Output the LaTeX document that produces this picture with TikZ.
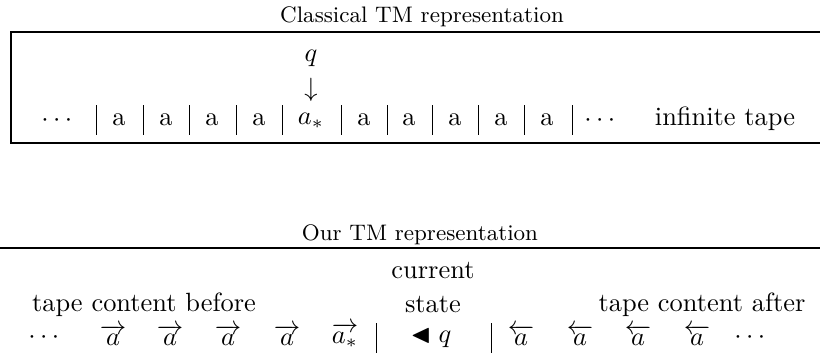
\documentclass[tikz,border=0pt]{standalone}
\usepackage{amsmath,amssymb}
\begin{document}
\begin{tikzpicture}[x=0.3788pt,y=-0.3788pt,
  txt/.style={inner sep=0pt,font=\fontsize{10}{12}\selectfont},
  ttl/.style={inner sep=0pt,font=\fontsize{8.5}{10}\selectfont},
  sep/.style={line width=0.35pt},
  frame/.style={line width=0.5pt}]
\useasboundingbox (0,0) rectangle (820,360);
% ---------- Classical TM ----------
\node[ttl] (t1) at (422,17) {Classical TM representation};
\draw[frame] (824,32) -- (11,32) -- (11,143) -- (824,143);
\node[txt] (q1) at (311,58) {$q$};
\node[txt] (dn) at (311,90) {$\downarrow$};
\node[txt] (d1) at (59,121) {$\cdots$};
\foreach \x/\n in {119/c1,166/c2,212/c3,259/c4,364/c6,409/c7,455/c8,501/c9,547/c10}
  \node[txt] (\n) at (\x,120) {a};
\node[txt] (c5) at (311,121) {$a_*$};
\node[txt] (d2) at (602,121) {$\cdots$};
\node[txt] (inf) at (725,119) {infinite tape};
\foreach \x in {96,143,189,236,282,341,387,432,478,524,572}
  \draw[sep] (\x,105) -- (\x,135);
% ---------- Our TM ----------
\node[ttl] (t2) at (420,235) {Our TM representation};
\draw[frame] (0,248) -- (820,248);
\node[txt] (cur) at (433,271) {current};
\node[txt] (st) at (433,305) {state};
\node[txt] (bef) at (144,305) {tape content before};
\node[txt] (aft) at (702,305) {tape content after};
\node[txt] (e1) at (46,338) {$\cdots$};
\foreach \x/\n in {113/r1,170/r2,228/r3,287/r4}
  \node[txt] (\n) at (\x,335) {$\overrightarrow{a}$};
\node[txt] (r5) at (345,335) {$\overrightarrow{a_*}$};
\node[txt] (qs) at (431,338) {$\blacktriangleleft q$};
\foreach \x/\n in {521/l1,580/l2,638/l3,697/l4}
  \node[txt] (\n) at (\x,335) {$\overleftarrow{a}$};
\node[txt] (e2) at (752,338) {$\cdots$};
\draw[sep] (376,323) -- (376,353);
\draw[sep] (491,323) -- (491,353);
\end{tikzpicture}
\end{document}
